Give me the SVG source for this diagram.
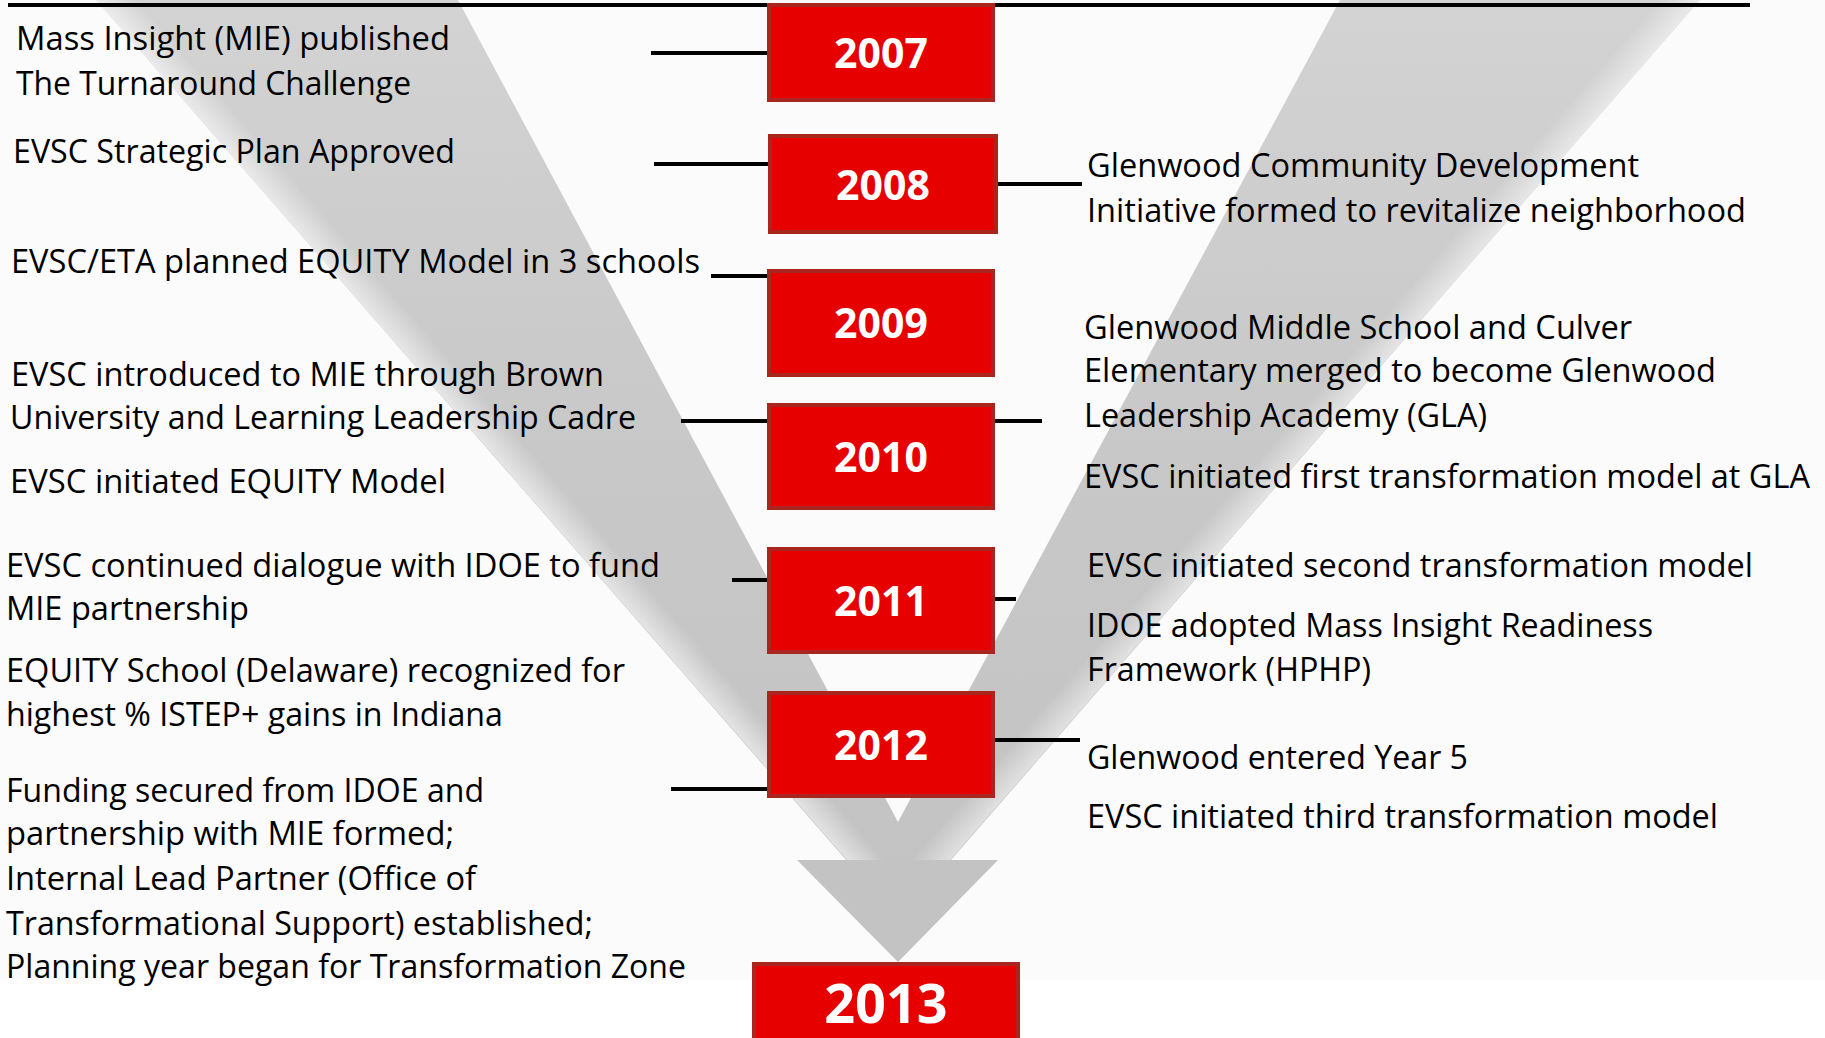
<svg xmlns="http://www.w3.org/2000/svg" width="1825" height="1038" viewBox="0 0 1825 1038">
<defs>
<style>
.box{fill:#e60000;stroke:#a9261f;stroke-width:4}
.yr{font-family:"Open Sans","Liberation Sans",sans-serif;font-weight:700;fill:#ffffff;font-size:41px;text-anchor:middle}
.t{font-family:"Open Sans","Liberation Sans",sans-serif;font-size:32px;fill:#000000}
.c{stroke:#000000;stroke-width:4;fill:none}
</style>
<linearGradient id="gv" x1="0" y1="0" x2="0" y2="860" gradientUnits="userSpaceOnUse">
<stop offset="0" stop-color="#d3d3d3"/>
<stop offset="0.45" stop-color="#c9c9c9"/>
<stop offset="1" stop-color="#c3c3c3"/>
</linearGradient>
<linearGradient id="hl" x1="471" y1="430" x2="494" y2="410" gradientUnits="userSpaceOnUse">
<stop offset="0" stop-color="#ffffff" stop-opacity="0.55"/>
<stop offset="1" stop-color="#ffffff" stop-opacity="0"/>
</linearGradient>
<linearGradient id="hr" x1="1325" y1="430" x2="1302" y2="410" gradientUnits="userSpaceOnUse">
<stop offset="0" stop-color="#ffffff" stop-opacity="0.5"/>
<stop offset="1" stop-color="#ffffff" stop-opacity="0"/>
</linearGradient>
</defs>
<rect id="background" x="0" y="0" width="1825" height="1038" fill="#ffffff"/>
<rect x="0" y="0" width="1825" height="980" fill="#fbfbfb"/>
<g id="chevron">
<polygon points="797,860 998,860 898,962" fill="#c3c3c3"/>
<polygon points="96,0 458,0 898,822 1340,0 1700,0 950,861 847,861" fill="url(#gv)"/>
<polygon points="96,0 458,0 898,822 898,860 847,860" fill="url(#hl)"/>
<polygon points="1340,0 1700,0 950,860 898,860 898,822" fill="url(#hr)"/>
</g>
<g id="connectors">
<line class="c" x1="8" y1="5" x2="1750" y2="5"/>
<line class="c" x1="651" y1="53" x2="769" y2="53"/>
<line class="c" x1="654" y1="164" x2="770" y2="164"/>
<line class="c" x1="994" y1="184" x2="1082" y2="184"/>
<line class="c" x1="711" y1="276" x2="769" y2="276"/>
<line class="c" x1="681" y1="421" x2="769" y2="421"/>
<line class="c" x1="993" y1="421" x2="1042" y2="421"/>
<line class="c" x1="732" y1="580" x2="769" y2="580"/>
<line class="c" x1="993" y1="599" x2="1016" y2="599"/>
<line class="c" x1="671" y1="789" x2="769" y2="789"/>
<line class="c" x1="993" y1="740" x2="1080" y2="740"/>
</g>
<g id="y2007"><rect class="box" x="769" y="5" width="224" height="95"/><text class="yr" x="881" y="68">2007</text></g>
<g id="y2008"><rect class="box" x="770" y="136" width="226" height="96"/><text class="yr" x="883" y="200">2008</text></g>
<g id="y2009"><rect class="box" x="769" y="271" width="224" height="104"/><text class="yr" x="881" y="338">2009</text></g>
<g id="y2010"><rect class="box" x="769" y="405" width="224" height="103"/><text class="yr" x="881" y="472">2010</text></g>
<g id="y2011"><rect class="box" x="769" y="549" width="224" height="103"/><text class="yr" x="881" y="616">2011</text></g>
<g id="y2012"><rect class="box" x="769" y="693" width="224" height="103"/><text class="yr" x="881" y="760">2012</text></g>
<g id="y2013"><rect class="box" x="754" y="964" width="264" height="90"/><text class="yr" x="886" y="1023" style="font-size:54px">2013</text></g>
<g id="left-2007">
<text class="t" x="16" y="50" textLength="434" lengthAdjust="spacingAndGlyphs">Mass Insight (MIE) published</text>
<text class="t" x="16" y="95" textLength="395" lengthAdjust="spacingAndGlyphs">The Turnaround Challenge</text>
</g>
<g id="left-2008">
<text class="t" x="13" y="163" textLength="442" lengthAdjust="spacingAndGlyphs">EVSC Strategic Plan Approved</text>
</g>
<g id="left-2009">
<text class="t" x="11" y="273" textLength="689" lengthAdjust="spacingAndGlyphs">EVSC/ETA planned EQUITY Model in 3 schools</text>
</g>
<g id="left-2010">
<text class="t" x="11" y="386" textLength="593" lengthAdjust="spacingAndGlyphs">EVSC introduced to MIE through Brown</text>
<text class="t" x="10" y="429" textLength="626" lengthAdjust="spacingAndGlyphs">University and Learning Leadership Cadre</text>
<text class="t" x="10" y="493" textLength="436" lengthAdjust="spacingAndGlyphs">EVSC initiated EQUITY Model</text>
</g>
<g id="left-2011">
<text class="t" x="6" y="577" textLength="654" lengthAdjust="spacingAndGlyphs">EVSC continued dialogue with IDOE to fund</text>
<text class="t" x="6" y="620" textLength="243" lengthAdjust="spacingAndGlyphs">MIE partnership</text>
<text class="t" x="6" y="682" textLength="619" lengthAdjust="spacingAndGlyphs">EQUITY School (Delaware) recognized for</text>
<text class="t" x="6" y="726" textLength="497" lengthAdjust="spacingAndGlyphs">highest % ISTEP+ gains in Indiana</text>
</g>
<g id="left-2012">
<text class="t" x="6" y="802" textLength="478" lengthAdjust="spacingAndGlyphs">Funding secured from IDOE and</text>
<text class="t" x="6" y="845" textLength="448" lengthAdjust="spacingAndGlyphs">partnership with MIE formed;</text>
<text class="t" x="6" y="890" textLength="470" lengthAdjust="spacingAndGlyphs">Internal Lead Partner (Office of</text>
<text class="t" x="6" y="935" textLength="587" lengthAdjust="spacingAndGlyphs">Transformational Support) established;</text>
<text class="t" x="6" y="978" textLength="680" lengthAdjust="spacingAndGlyphs">Planning year began for Transformation Zone</text>
</g>
<g id="right-2008">
<text class="t" x="1087" y="177" textLength="552" lengthAdjust="spacingAndGlyphs">Glenwood Community Development</text>
<text class="t" x="1087" y="222" textLength="659" lengthAdjust="spacingAndGlyphs">Initiative formed to revitalize neighborhood</text>
</g>
<g id="right-2010">
<text class="t" x="1084" y="339" textLength="548" lengthAdjust="spacingAndGlyphs">Glenwood Middle School and Culver</text>
<text class="t" x="1084" y="382" textLength="632" lengthAdjust="spacingAndGlyphs">Elementary merged to become Glenwood</text>
<text class="t" x="1084" y="427" textLength="403" lengthAdjust="spacingAndGlyphs">Leadership Academy (GLA)</text>
<text class="t" x="1084" y="488" textLength="726" lengthAdjust="spacingAndGlyphs">EVSC initiated first transformation model at GLA</text>
</g>
<g id="right-2011">
<text class="t" x="1087" y="577" textLength="666" lengthAdjust="spacingAndGlyphs">EVSC initiated second transformation model</text>
<text class="t" x="1087" y="637" textLength="566" lengthAdjust="spacingAndGlyphs">IDOE adopted Mass Insight Readiness</text>
<text class="t" x="1087" y="681" textLength="284" lengthAdjust="spacingAndGlyphs">Framework (HPHP)</text>
</g>
<g id="right-2012">
<text class="t" x="1087" y="769" textLength="381" lengthAdjust="spacingAndGlyphs">Glenwood entered Year 5</text>
<text class="t" x="1087" y="828" textLength="631" lengthAdjust="spacingAndGlyphs">EVSC initiated third transformation model</text>
</g>
</svg>
